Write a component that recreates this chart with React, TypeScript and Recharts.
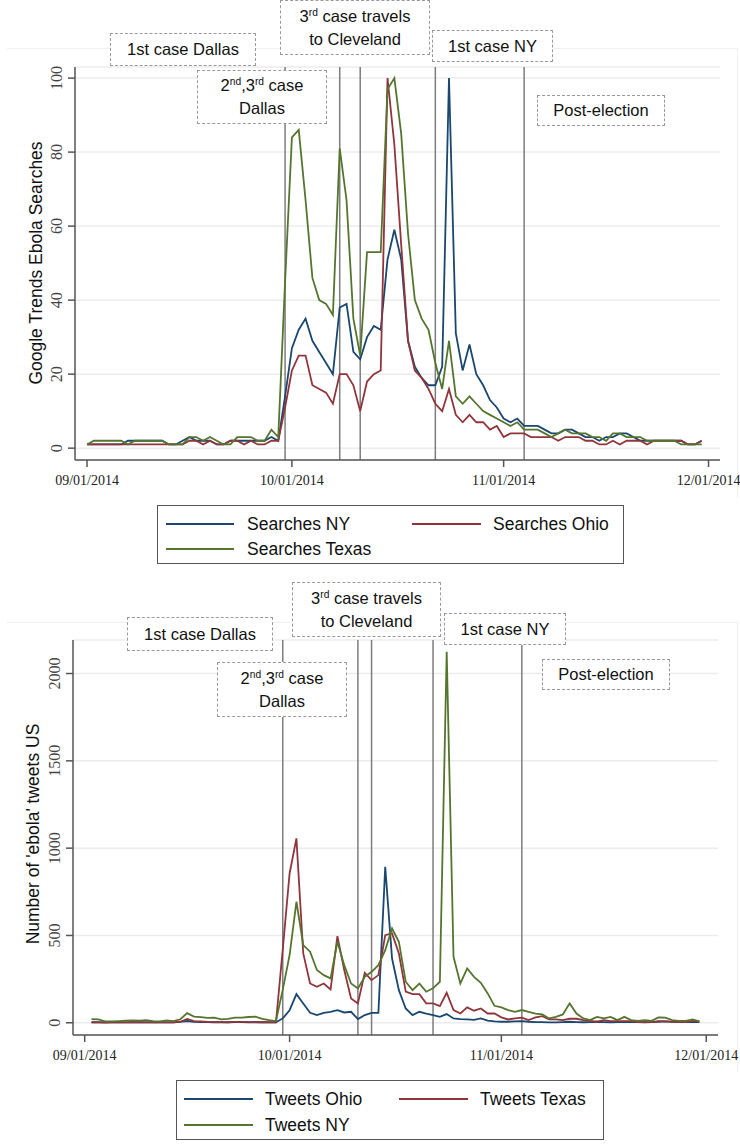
import React from "react";
import { LineChart, Line, XAxis, YAxis, CartesianGrid, ReferenceLine } from "recharts";

// days counted from 09/01/2014
const dateTicks = [0, 30, 61, 91];
const dateLabels = ["09/01/2014", "10/01/2014", "11/01/2014", "12/01/2014"];

// --- Google Trends (daily, 09/01 - 11/30) ---
const searchesNY = [
  1, 1, 1, 1, 1, 1, 2, 2, 2, 2, 2, 2, 1, 1, 2, 3, 2, 2, 2, 1, 1, 2, 2, 2, 2, 2, 2, 3, 2,
  14, 27, 32, 35, 29, 26, 23, 20, 38, 39, 26, 24, 30, 33, 32, 51, 59, 51, 29, 22, 19, 17, 17, 22,
  100, 31, 21, 28, 20, 17, 13, 11, 8, 7, 8, 6, 6, 6, 5, 4, 4, 5, 5, 4, 3, 3, 2, 3, 3, 4, 4, 3,
  2, 2, 2, 2, 2, 2, 2, 1, 1, 2,
];
const searchesOhio = [
  1, 1, 1, 1, 1, 1, 1, 1, 1, 1, 1, 1, 1, 1, 1, 2, 2, 1, 2, 1, 1, 2, 2, 1, 2, 1, 1, 2, 2,
  11, 21, 25, 25, 17, 16, 15, 12, 20, 20, 17, 10, 18, 20, 21, 100, 82, 55, 29, 21, 19, 16, 12, 10,
  16, 9, 7, 9, 7, 7,
  5, 6, 3, 4, 4, 4, 3, 3, 3, 3, 2, 3, 3, 3, 2, 2, 1, 1, 2, 1, 2, 2, 2, 1, 2, 2, 2, 2, 2, 1, 1, 2,
];
const searchesTexas = [
  1, 2, 2, 2, 2, 2, 1, 2, 2, 2, 2, 2, 1, 1, 1, 3, 3, 2, 3, 2, 1, 1, 3, 3, 3, 2, 2, 5, 3,
  45, 84, 86, 67, 46, 40, 39, 36, 81, 67, 35, 25, 53, 53, 53, 97, 100, 85, 58, 40, 35, 32, 23, 16,
  29, 14, 12, 14,
  12, 10, 9, 8, 7, 6, 7, 5, 5, 5, 4, 3, 4, 5, 4, 4, 4, 3, 3, 2, 4, 4, 3, 3, 3, 2, 2, 2, 2, 2,
  1, 1, 1, 1,
];

// --- 'ebola' tweets (daily, 09/02 - 11/30) ---
const tweetsOhio = [
  3, 3, 2, 2, 3, 2, 3, 3, 2, 3, 2, 2, 3, 5, 10, 6, 4, 4, 3, 3, 3, 4, 4, 3, 3, 3, 2, 3,
  25, 72, 164, 110, 57, 44, 57, 63, 72, 59, 63, 21, 44, 57, 57, 893, 368, 187, 82, 44, 63, 53,
  44, 34, 50, 25, 21, 19,
  17, 25, 12, 8, 6, 6, 8, 10, 6, 4, 4, 2, 2, 4, 6, 4, 3, 4, 6, 4, 3, 4, 6, 4, 4, 3, 4, 6, 8, 5,
  4, 4, 6, 4,
];
const tweetsTexas = [
  2, 2, 1, 2, 3, 2, 3, 3, 2, 3, 2, 2, 3, 6, 22, 10, 8, 5, 4, 4, 3, 5, 5, 4, 4, 3, 3, 2,
  420, 855, 1056, 397, 225, 206, 225, 191, 496, 302, 139, 111, 286, 244, 273, 502, 512, 397, 178,
  164, 164, 111, 111, 95, 172, 73, 53, 88,
  69, 82, 53, 53, 31, 19, 25, 29, 15, 31, 38, 19, 19, 15, 23, 23, 15, 11, 6, 15, 10, 10, 10, 10,
  4, 4, 4, 10, 8, 6, 6, 4, 11, 6,
];
const tweetsNY = [
  21, 20, 8, 8, 10, 12, 14, 12, 15, 10, 8, 14, 10, 20, 55, 35, 32, 28, 30, 20, 22, 30, 30, 33, 35,
  22, 15, 10,
  190, 388, 693, 445, 407, 302, 273, 254, 464, 330, 225, 197, 263, 292, 330, 416, 540, 464, 235,
  187, 225, 178, 197, 235, 2125, 378, 225, 311,
  263, 229, 168, 97, 88, 73, 63, 73, 63, 53, 48, 25, 34, 48, 111, 53, 25, 15, 34, 25, 34, 15, 34,
  15, 11, 15, 11, 31, 29, 15, 11, 11, 19, 8,
];

const searchTicks = [0, 20, 40, 60, 80, 100];
const tweetTicks = [0, 500, 1000, 1500, 2000];
const searchEventDays = [29, 37, 40, 51, 64];
const tweetEventDays = [29, 40, 42, 51, 64];

const NAVY = "#1a476f";
const MAROON = "#90353b";
const FOREST = "#55752f";

const searchSeries = [
  { key: "ny", name: "Searches NY", color: NAVY },
  { key: "ohio", name: "Searches Ohio", color: MAROON },
  { key: "texas", name: "Searches Texas", color: FOREST },
];
const tweetSeries = [
  { key: "ohio", name: "Tweets Ohio", color: NAVY },
  { key: "texas", name: "Tweets Texas", color: MAROON },
  { key: "ny", name: "Tweets NY", color: FOREST },
];

const searchRows = searchesNY.map((v, i) => ({
  day: i,
  ny: v,
  ohio: searchesOhio[i],
  texas: searchesTexas[i],
}));
const tweetRows = tweetsOhio.map((v, i) => ({
  day: i + 1,
  ohio: v,
  texas: tweetsTexas[i],
  ny: tweetsNY[i],
}));

const SANS = "'Liberation Sans', Arial, sans-serif";
const SERIF = "'Liberation Serif', 'Times New Roman', serif";

const dateLabel = (d: number) => dateLabels[dateTicks.indexOf(d)] ?? "";

function RotatedTick({ x, y, payload }: any) {
  const bx = x - 4;
  return (
    <text
      x={bx}
      y={y}
      transform={`rotate(-90 ${bx} ${y})`}
      textAnchor="middle"
      fontFamily={SERIF}
      fontSize={16}
      fill="#444"
    >
      {payload.value}
    </text>
  );
}

const sup = { fontSize: "0.62em", verticalAlign: "super", lineHeight: 0 } as const;

function Note({ left, top, width, height, children }: any) {
  return (
    <div
      style={{
        position: "absolute",
        left,
        top,
        width,
        height,
        boxSizing: "border-box",
        border: "1px dashed #9a9a9a",
        background: "#fff",
        display: "flex",
        alignItems: "center",
        justifyContent: "center",
        textAlign: "center",
        fontFamily: SANS,
        fontSize: 16.5,
        lineHeight: "23px",
        color: "#111",
      }}
    >
      <div>{children}</div>
    </div>
  );
}

function AxisTitle({ text, cx, cy }: { text: string; cx: number; cy: number }) {
  const w = 320;
  return (
    <div
      style={{
        position: "absolute",
        left: cx - w / 2,
        top: cy - 11,
        width: w,
        height: 22,
        lineHeight: "22px",
        textAlign: "center",
        transform: "rotate(-90deg)",
        fontFamily: SANS,
        fontSize: 17.5,
        color: "#111",
      }}
    >
      {text}
    </div>
  );
}

function LegendBox({ series, box, cols, rows }: any) {
  return (
    <div
      style={{
        position: "absolute",
        left: box[0],
        top: box[1],
        width: box[2] - box[0],
        height: box[3] - box[1],
        boxSizing: "border-box",
        border: "1.5px solid #555",
        background: "#fff",
      }}
    >
      {series.map((s: any, i: number) => {
        const c = cols[i % 2];
        const r = rows[Math.floor(i / 2)];
        return (
          <React.Fragment key={s.key}>
            <div
              style={{
                position: "absolute",
                left: c[0] - box[0],
                top: r - box[1] - 1,
                width: c[1] - c[0],
                height: 2,
                background: s.color,
              }}
            />
            <div
              style={{
                position: "absolute",
                left: c[2] - box[0],
                top: r - box[1] - 12,
                height: 24,
                lineHeight: "24px",
                whiteSpace: "nowrap",
                fontFamily: SANS,
                fontSize: 17.5,
                color: "#111",
              }}
            >
              {s.name}
            </div>
          </React.Fragment>
        );
      })}
    </div>
  );
}

function Panel({ rows, series, events, yTicks, yDomain, xDomain, margin, yWidth }: any) {
  return (
    <LineChart width={740} height={500} data={rows} margin={margin}>
      <CartesianGrid vertical={false} stroke="#ececec" strokeWidth={1.5} />
      <XAxis
        dataKey="day"
        type="number"
        domain={xDomain}
        allowDataOverflow
        ticks={dateTicks}
        tickFormatter={dateLabel}
        interval={0}
        height={30}
        tickSize={7}
        tickMargin={8}
        stroke="#555"
        strokeWidth={1.5}
        tick={{ fontFamily: SERIF, fontSize: 14, fill: "#222" }}
      />
      <YAxis
        type="number"
        domain={yDomain}
        allowDataOverflow
        ticks={yTicks}
        interval={0}
        width={yWidth}
        tickSize={7}
        stroke="#555"
        strokeWidth={1.5}
        tick={<RotatedTick />}
      />
      {events.map((d: number) => (
        <ReferenceLine key={d} x={d} stroke="#7d7d7d" strokeWidth={1.5} />
      ))}
      {series.map((s: any) => (
        <Line
          key={s.key}
          type="linear"
          dataKey={s.key}
          name={s.name}
          stroke={s.color}
          strokeWidth={1.8}
          dot={false}
          isAnimationActive={false}
        />
      ))}
    </LineChart>
  );
}

export default function App() {
  return (
    <div
      style={{
        position: "absolute",
        left: 0,
        top: 0,
        width: 740,
        height: 1148,
        background: "#fff",
        overflow: "hidden",
      }}
    >
      {/* faint graph-region outlines */}
      <div style={{ position: "absolute", left: 7, top: 48, width: 731, height: 1, background: "#efefef" }} />
      <div style={{ position: "absolute", left: 737, top: 48, width: 1, height: 450, background: "#efefef" }} />
      <div style={{ position: "absolute", left: 7, top: 622, width: 731, height: 1, background: "#efefef" }} />
      <div style={{ position: "absolute", left: 737, top: 622, width: 1, height: 450, background: "#efefef" }} />

      {/* top panel: Google Trends */}
      <div style={{ position: "absolute", left: 0, top: 0 }}>
        <Panel
          rows={searchRows}
          series={searchSeries}
          events={searchEventDays}
          yTicks={searchTicks}
          yDomain={[-3.2, 103]}
          xDomain={[-1.76, 92.68]}
          margin={{ top: 67, right: 20, left: 0, bottom: 10 }}
          yWidth={75}
        />
      </div>
      <AxisTitle text="Google Trends Ebola Searches" cx={36} cy={263} />
      <Note left={110} top={33} width={146} height={33}>1st case Dallas</Note>
      <Note left={197} top={70} width={130} height={54}>
        2<span style={sup}>nd</span>,3<span style={sup}>rd</span> case
        <br />
        Dallas
      </Note>
      <Note left={280} top={0} width={150} height={55}>
        3<span style={sup}>rd</span> case travels
        <br />
        to Cleveland
      </Note>
      <Note left={432} top={30} width={121} height={32}>1st case NY</Note>
      <Note left={537} top={95} width={128} height={31}>Post-election</Note>
      <LegendBox
        series={searchSeries}
        box={[157, 505, 624, 564]}
        cols={[
          [165, 233, 246],
          [411, 480, 492],
        ]}
        rows={[523, 548]}
      />

      {/* bottom panel: tweets */}
      <div style={{ position: "absolute", left: 0, top: 580 }}>
        <Panel
          rows={tweetRows}
          series={tweetSeries}
          events={tweetEventDays}
          yTicks={tweetTicks}
          yDomain={[-70, 2192]}
          xDomain={[-1.71, 92.72]}
          margin={{ top: 60, right: 22, left: 0, bottom: 15 }}
          yWidth={73}
        />
      </div>
      <AxisTitle text="Number of 'ebola' tweets US" cx={33} cy={834} />
      <Note left={127} top={617} width={146} height={34}>1st case Dallas</Note>
      <Note left={217} top={662} width={130} height={55}>
        2<span style={sup}>nd</span>,3<span style={sup}>rd</span> case
        <br />
        Dallas
      </Note>
      <Note left={292} top={582} width={149} height={55}>
        3<span style={sup}>rd</span> case travels
        <br />
        to Cleveland
      </Note>
      <Note left={444} top={613} width={122} height={32}>1st case NY</Note>
      <Note left={542} top={659} width={128} height={31}>Post-election</Note>
      <LegendBox
        series={tweetSeries}
        box={[176, 1080, 604, 1140]}
        cols={[
          [183, 252, 264],
          [398, 467, 479],
        ]}
        rows={[1098, 1124]}
      />
    </div>
  );
}
